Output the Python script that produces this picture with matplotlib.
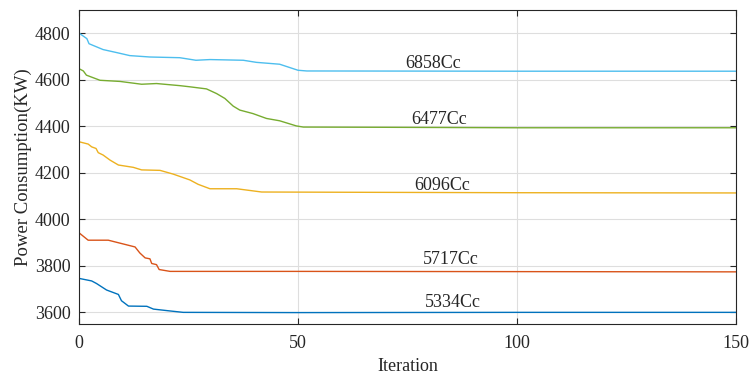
import matplotlib
matplotlib.use("Agg")
import matplotlib.pyplot as plt

plt.rcParams["font.family"] = ["Liberation Serif", "DejaVu Serif"]

# Iteration breakpoints and power consumption (KW)
x_5334 = [0, 2.9, 4, 6.3, 9, 9.7, 11.3, 15.5, 17, 20.8, 23.8, 50, 100, 150]
y_5334 = [3746, 3735, 3724, 3696, 3677, 3650, 3627, 3626, 3614, 3606, 3600, 3599, 3600, 3600]

x_5717 = [0, 2.1, 6.7, 12.8, 13.9, 15.1, 16.2, 16.6, 17.7, 18.3, 20.8, 50, 100, 150]
y_5717 = [3942, 3910, 3910, 3881, 3855, 3834, 3830, 3810, 3805, 3784, 3776, 3776, 3775, 3774]

x_6096 = [0, 2.1, 2.9, 3.9, 4.4, 5.5, 7.1, 9, 12.4, 14.3, 18.5, 21.5, 25.3, 27.2, 29.9,
          36, 41.7, 60, 100, 150]
y_6096 = [4333, 4323, 4311, 4304, 4286, 4276, 4254, 4233, 4223, 4212, 4210, 4194, 4169,
          4150, 4131, 4131, 4117, 4116, 4114, 4113]

x_6477 = [0, 1, 1.7, 4.8, 9.4, 14.3, 17.7, 23, 25.3, 29.1, 31.4, 33.3, 35.2, 36.7, 39.7,
          42.8, 45.8, 49.6, 51.2, 70, 100, 150]
y_6477 = [4647, 4637, 4619, 4597, 4592, 4580, 4583, 4574, 4569, 4560, 4540, 4519, 4486,
          4469, 4454, 4433, 4423, 4401, 4396, 4395, 4393, 4393]

x_6858 = [0, 1.8, 2.3, 5.5, 8.6, 11.6, 16.2, 23, 26.7, 29.9, 37.5, 40.5, 45.8, 50, 52, 100, 150]
y_6858 = [4800, 4776, 4754, 4729, 4716, 4703, 4697, 4694, 4683, 4686, 4683, 4674, 4666,
          4640, 4637, 4636, 4636]

labels = ["5334Cc", "5717Cc", "6096Cc", "6477Cc", "6858Cc"]
label_x = [85.3, 84.9, 82.9, 82.3, 80.9]
label_y = [3643, 3826, 4144, 4429, 4669]

series = [
    (x_5334, y_5334, "#0072BD"),
    (x_5717, y_5717, "#D95319"),
    (x_6096, y_6096, "#EDB120"),
    (x_6477, y_6477, "#77AC30"),
    (x_6858, y_6858, "#4DBEEE"),
]

fig = plt.figure(figsize=(7.52, 3.75), dpi=100)
ax = fig.add_axes([0.105, 0.136, 0.874, 0.838])

for xs, ys, color in series:
    ax.plot(xs, ys, color=color, linewidth=1.0)

for text, tx, ty in zip(labels, label_x, label_y):
    ax.text(tx, ty, text, ha="center", va="center", fontsize=13, color="#262626")

ax.set_xlim(0, 150)
ax.set_ylim(3550, 4900)
ax.set_xticks([0, 50, 100, 150])
ax.set_yticks([3600, 3800, 4000, 4200, 4400, 4600, 4800])
ax.grid(True, color="#dedede", linewidth=0.8)
ax.set_axisbelow(True)
ax.tick_params(direction="in", top=True, right=True, length=4, width=0.8,
               labelsize=13, colors="#262626", pad=6)
ax.tick_params(axis="x", pad=8)
for spine in ax.spines.values():
    spine.set_color("#262626")
    spine.set_linewidth(0.8)

ax.set_xlabel("Iteration", fontsize=13, color="#262626", labelpad=4)
ax.set_ylabel("Power Consumption(KW)", fontsize=13.5, color="#262626", labelpad=2)

fig.savefig("out.png", dpi=100)
